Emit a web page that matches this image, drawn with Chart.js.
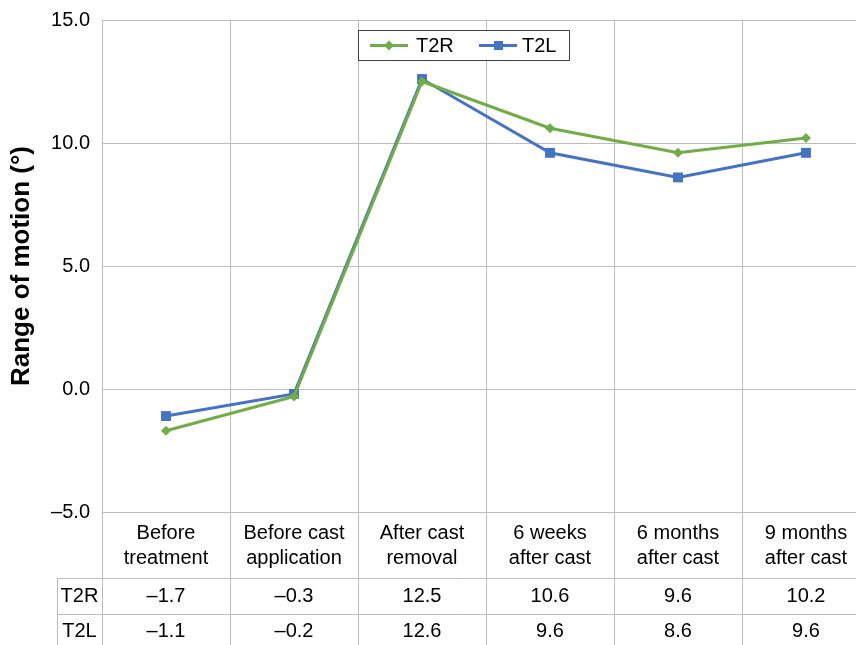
<!DOCTYPE html>
<html>
<head>
<meta charset="utf-8">
<script src="https://cdn.jsdelivr.net/npm/chart.js@4"></script>
<style>
  html, body { margin: 0; padding: 0; background: #fff; overflow: hidden; }
  #wrap { width: 870px; height: 645px; }
</style>
</head>
<body>
<div id="wrap"><canvas id="myChart" width="870" height="645"></canvas></div>
<script>
'use strict';

// Data
let categories = [
  ['Before', 'treatment'],
  ['Before cast', 'application'],
  ['After cast', 'removal'],
  ['6 weeks', 'after cast'],
  ['6 months', 'after cast'],
  ['9 months', 'after cast']
];
let t2rValues = [-1.7, -0.3, 12.5, 10.6, 9.6, 10.2];
let t2lValues = [-1.1, -0.2, 12.6, 9.6, 8.6, 9.6];
let yTicks = [-5, 0, 5, 10, 15];

let green = '#70AD47';
let blue = '#4472C4';
let gridGray = '#bcbcbc';
let fontFamily = '"Liberation Sans", Arial, sans-serif';

function fmt(v) {
  return v.toFixed(1).replace('-', '\u2013');
}

// Data table + legend drawn under the plot
let tablePlugin = {
  id: 'tablePlugin',
  afterDraw(chart) {
    let ctx = chart.ctx;
    let area = chart.chartArea;
    let xScale = chart.scales.x;
    let n = categories.length;
    let colW = (area.right - area.left) / n;
    let headBottom = area.bottom + 66;
    let row1Bottom = headBottom + 36;
    let labelLeft = 57;

    ctx.save();
    ctx.strokeStyle = gridGray;
    ctx.lineWidth = 1;
    ctx.beginPath();
    // left border full height
    ctx.moveTo(area.left + 0.5, area.top);
    ctx.lineTo(area.left + 0.5, 645);
    for (let i = 1; i <= n; i++) {
      let x = Math.round(area.left + i * colW) + 0.5;
      ctx.moveTo(x, area.bottom);
      ctx.lineTo(x, 645);
    }
    ctx.moveTo(labelLeft + 0.5, headBottom);
    ctx.lineTo(labelLeft + 0.5, 645);
    ctx.moveTo(labelLeft, headBottom + 0.5);
    ctx.lineTo(area.right, headBottom + 0.5);
    ctx.moveTo(labelLeft, row1Bottom + 0.5);
    ctx.lineTo(area.right, row1Bottom + 0.5);
    ctx.stroke();

    ctx.fillStyle = '#000';
    ctx.font = '20px ' + fontFamily;
    ctx.textAlign = 'center';
    ctx.textBaseline = 'middle';
    for (let i = 0; i < n; i++) {
      let cx = xScale.getPixelForValue(i);
      ctx.fillText(categories[i][0], cx, area.bottom + 21);
      ctx.fillText(categories[i][1], cx, area.bottom + 46);
      ctx.fillText(fmt(t2rValues[i]), cx, headBottom + 18);
      ctx.fillText(fmt(t2lValues[i]), cx, row1Bottom + 17);
    }
    let labelX = (labelLeft + area.left) / 2;
    ctx.fillText('T2R', labelX, headBottom + 18);
    ctx.fillText('T2L', labelX, row1Bottom + 17);

    // legend box
    ctx.fillStyle = '#fff';
    ctx.fillRect(358, 30, 212, 30);
    ctx.strokeStyle = '#404040';
    ctx.strokeRect(358.5, 30.5, 211, 30);

    ctx.lineWidth = 3;
    ctx.strokeStyle = green;
    ctx.beginPath();
    ctx.moveTo(370, 45.5);
    ctx.lineTo(408, 45.5);
    ctx.stroke();
    ctx.fillStyle = green;
    ctx.beginPath();
    ctx.moveTo(389, 40.5);
    ctx.lineTo(394, 45.5);
    ctx.lineTo(389, 50.5);
    ctx.lineTo(384, 45.5);
    ctx.closePath();
    ctx.fill();

    ctx.strokeStyle = blue;
    ctx.beginPath();
    ctx.moveTo(479, 45.5);
    ctx.lineTo(517, 45.5);
    ctx.stroke();
    ctx.fillStyle = blue;
    ctx.fillRect(494, 41, 9, 9);

    ctx.fillStyle = '#000';
    ctx.textAlign = 'left';
    ctx.fillText('T2R', 416, 46);
    ctx.fillText('T2L', 522, 46);
    ctx.restore();
  }
};

let ctx = document.getElementById('myChart').getContext('2d');
let myChart = new Chart(ctx, {
  type: 'line',
  data: {
    labels: categories.map(c => c.join(' ')),
    datasets: [
      {
        label: 'T2R',
        data: t2rValues,
        borderColor: green,
        backgroundColor: green,
        borderWidth: 3,
        pointStyle: 'rectRot',
        pointRadius: 5,
        pointBorderWidth: 0,
        tension: 0
      },
      {
        label: 'T2L',
        data: t2lValues,
        borderColor: blue,
        backgroundColor: blue,
        borderWidth: 3,
        pointStyle: 'rect',
        pointRadius: 7,
        pointBorderWidth: 0,
        tension: 0
      }
    ]
  },
  options: {
    responsive: false,
    animation: false,
    layout: {
      autoPadding: false,
      padding: { top: 20, bottom: 133, right: 0, left: 0 }
    },
    plugins: {
      legend: { display: false },
      tooltip: { enabled: false }
    },
    scales: {
      x: {
        type: 'category',
        offset: true,
        grid: { offset: true, color: gridGray, drawTicks: false },
        border: { display: false },
        ticks: { display: false }
      },
      y: {
        min: -5,
        max: 15,
        afterFit: s => {
          s.width = 102;
          s.paddingTop = 0;
          s.paddingBottom = 0;
        },
        afterBuildTicks: s => { s.ticks = yTicks.map(v => ({ value: v })); },
        grid: { color: gridGray, drawTicks: false },
        border: { display: false },
        ticks: {
          padding: 12,
          color: '#000',
          font: { family: fontFamily, size: 20 },
          callback: v => fmt(v)
        },
        title: {
          display: true,
          text: 'Range of motion (\u00b0)',
          color: '#000',
          padding: { top: 6, bottom: 0 },
          font: { family: fontFamily, size: 26, weight: 'bold' }
        }
      }
    }
  },
  plugins: [tablePlugin]
});
</script>
</body>
</html>
